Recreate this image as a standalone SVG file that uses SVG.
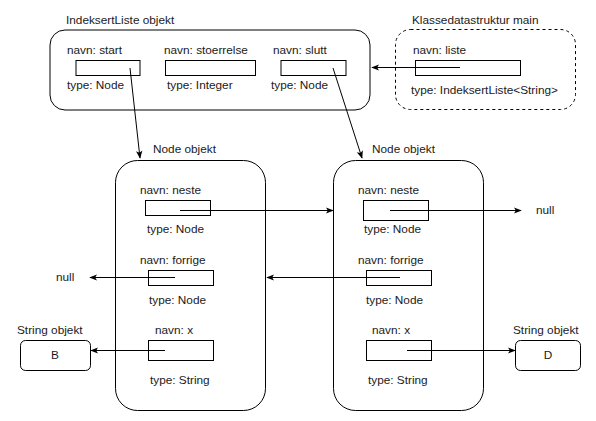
<svg xmlns="http://www.w3.org/2000/svg" width="596" height="421" viewBox="0 0 596 421">
<defs>
<style>
text{font-family:"Liberation Sans",Arial,sans-serif;font-size:11.8px;fill:#1a1a1a;dominant-baseline:central}
.c{text-anchor:middle}
.box{fill:#fff;stroke:#000;stroke-width:1}
.cont{fill:#fff;stroke:#000;stroke-width:1}
.dash{fill:#fff;stroke:#000;stroke-width:1;stroke-dasharray:3 3}
.ln{fill:none;stroke:#000;stroke-width:1;marker-end:url(#arr)}
</style>
<marker id="arr" viewBox="0 0 10 10" refX="9" refY="5" markerWidth="8" markerHeight="8" markerUnits="userSpaceOnUse" orient="auto">
<path d="M0,1 L10,5 L0,9 L2.5,5 Z" fill="#000"/>
</marker>
</defs>
<rect width="596" height="421" fill="#fff"/>

<g id="indeksertliste">
<text x="66" y="20">IndeksertListe objekt</text>
<rect class="cont" x="50" y="30" width="320" height="80" rx="15"/>
<text x="67" y="50">navn: start</text>
<rect class="box" x="76" y="60.5" width="64" height="15"/>
<text x="67" y="85">type: Node</text>
<text x="164" y="50">navn: stoerrelse</text>
<rect class="box" x="165.5" y="60.5" width="90" height="15"/>
<text x="167" y="85">type: Integer</text>
<text x="273" y="50">navn: slutt</text>
<rect class="box" x="281" y="60.5" width="65" height="15"/>
<text x="271" y="85">type: Node</text>
</g>

<g id="main">
<text x="412" y="20">Klassedatastruktur main</text>
<rect class="dash" x="395.5" y="29.5" width="180" height="80" rx="15"/>
<text x="413" y="50">navn: liste</text>
<rect class="box" x="415.5" y="60.5" width="105" height="15"/>
<text x="411" y="90">type: IndeksertListe&lt;String&gt;</text>
</g>

<g id="node1">
<text x="153" y="149">Node objekt</text>
<rect class="cont" x="115.5" y="160.5" width="150" height="250" rx="22"/>
<text x="140" y="190">navn: neste</text>
<rect class="box" x="145.5" y="200.5" width="65" height="15"/>
<text x="147" y="229">type: Node</text>
<text x="140" y="260">navn: forrige</text>
<rect class="box" x="148.5" y="270.5" width="65" height="15"/>
<text x="149" y="300">type: Node</text>
<text x="155" y="330">navn: x</text>
<rect class="box" x="148.5" y="340.5" width="65" height="20"/>
<text x="150" y="380">type: String</text>
</g>

<g id="node2">
<text x="372" y="149">Node objekt</text>
<rect class="cont" x="333.5" y="160.5" width="150" height="250" rx="22"/>
<text x="358" y="190">navn: neste</text>
<rect class="box" x="363.5" y="200.5" width="65" height="20"/>
<text x="364" y="229">type: Node</text>
<text x="358" y="260">navn: forrige</text>
<rect class="box" x="366.5" y="270.5" width="65" height="15"/>
<text x="366" y="300">type: Node</text>
<text x="372" y="330">navn: x</text>
<rect class="box" x="366.5" y="340.5" width="65" height="20"/>
<text x="368" y="380">type: String</text>
</g>

<g id="stringB">
<text x="17" y="330">String objekt</text>
<rect class="box" x="20.5" y="340.5" width="70" height="30" rx="5"/>
<text class="c" x="55" y="355">B</text>
</g>

<g id="stringD">
<text x="513" y="330">String objekt</text>
<rect class="box" x="515.5" y="340.5" width="65" height="30" rx="5"/>
<text class="c" x="548" y="355">D</text>
</g>

<g id="null1"><text x="56" y="277">null</text></g>
<g id="null2"><text x="536" y="210">null</text></g>

<g id="connectors">
<path class="ln" d="M460,67.5 L372,67.5"/>
<path class="ln" d="M130,68 L140,158"/>
<path class="ln" d="M333,68 L362,158"/>
<path class="ln" d="M180,210.5 L333,210.5"/>
<path class="ln" d="M390,210.5 L521,210.5"/>
<path class="ln" d="M400,277.5 L267,277.5"/>
<path class="ln" d="M175,277.5 L90,277.5"/>
<path class="ln" d="M165,350.5 L91,350.5"/>
<path class="ln" d="M407,350.5 L515,350.5"/>
</g>
</svg>
